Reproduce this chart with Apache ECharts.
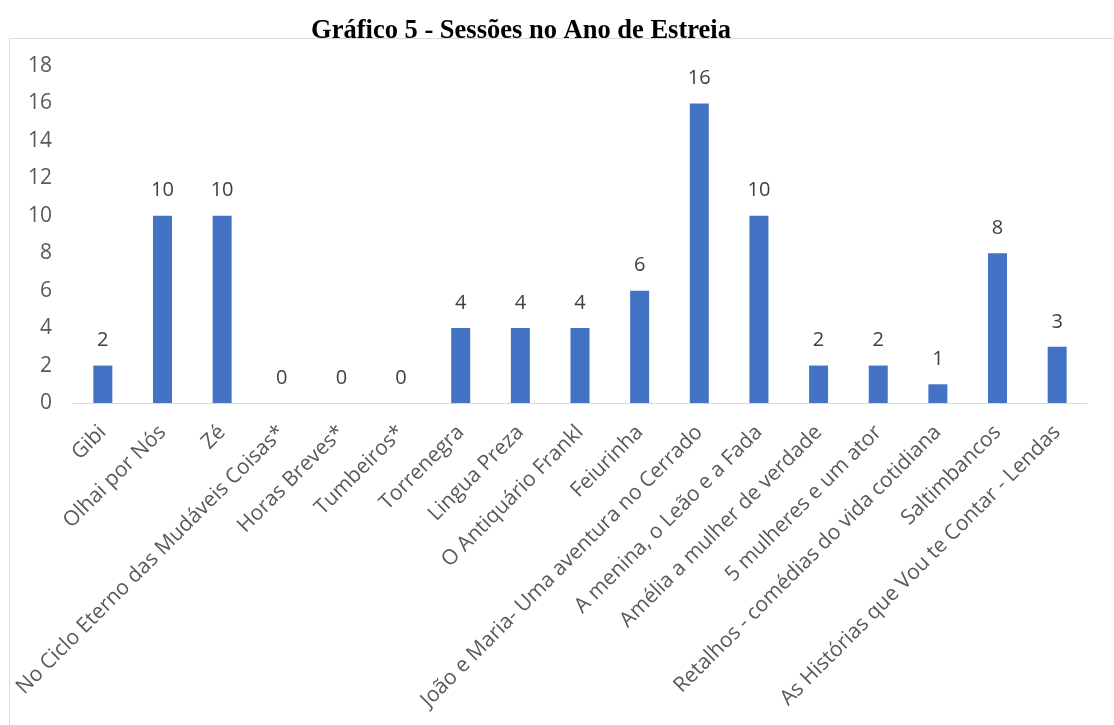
<!DOCTYPE html>
<html>
<head>
<meta charset="utf-8">
<script src="https://cdn.jsdelivr.net/npm/echarts@6/dist/echarts.min.js"></script>
<style>
  html, body { margin: 0; padding: 0; background: #fff; }
  #chart { width: 1114px; height: 725px; }
</style>
</head>
<body>
<div id="chart"></div>
<script>
// Espetáculos e número de sessões no ano de estreia
const espetaculos = [
  'Gibi',
  'Olhai por Nós',
  'Zé',
  'No Ciclo Eterno das Mudáveis Coisas*',
  'Horas Breves*',
  'Tumbeiros*',
  'Torrenegra',
  'Lingua Preza',
  'O Antiquário Frankl',
  'Feiurinha',
  'João e Maria- Uma aventura no Cerrado',
  'A menina, o Leão e a Fada',
  'Amélia a mulher de verdade',
  '5 mulheres e um ator',
  'Retalhos - comédias do vida cotidiana',
  'Saltimbancos',
  'As Histórias que Vou te Contar - Lendas'
];
const sessoes = [2, 10, 10, 0, 0, 0, 4, 4, 4, 6, 16, 10, 2, 2, 1, 8, 3];
const titulo = 'Gráfico 5 - Sessões no Ano de Estreia';

const chart = echarts.init(document.getElementById('chart'), null, { renderer: 'canvas' });
const fonte = '"Open Sans", "Noto Sans", sans-serif';

chart.setOption({
  animation: false,
  backgroundColor: '#ffffff',
  title: {
    text: titulo,
    left: 516,
    top: 13,
    textAlign: 'center',
    textStyle: {
      fontFamily: '"Liberation Serif", "Times New Roman", serif',
      fontWeight: 'bold',
      fontSize: 26.5,
      color: '#000000'
    }
  },
  graphic: [{
    type: 'rect',
    shape: { x: 9.5, y: 38.5, width: 1200, height: 800 },
    style: { fill: 'none', stroke: '#d9d9d9', lineWidth: 1 },
    silent: true
  }],
  grid: { left: 73, right: 27, top: 66, bottom: 322, containLabel: false },
  xAxis: {
    type: 'category',
    data: espetaculos,
    axisLine: { show: true, lineStyle: { color: '#d9d9d9', width: 1 } },
    axisTick: { show: false },
    axisLabel: {
      interval: 0,
      rotate: 45,
      margin: 26,
      fontFamily: fonte,
      fontSize: 21,
      color: '#595959'
    }
  },
  yAxis: {
    type: 'value',
    min: 0,
    max: 18,
    interval: 2,
    axisLine: { show: false },
    axisTick: { show: false },
    splitLine: { show: false },
    axisLabel: {
      margin: 21,
      fontFamily: fonte,
      fontSize: 21,
      color: '#595959'
    }
  },
  series: [{
    type: 'bar',
    data: sessoes,
    barWidth: 19,
    itemStyle: { color: '#4472C4' },
    label: {
      show: true,
      position: 'top',
      distance: 15,
      fontFamily: fonte,
      fontSize: 20,
      color: '#404040'
    }
  }]
});
</script>
</body>
</html>
